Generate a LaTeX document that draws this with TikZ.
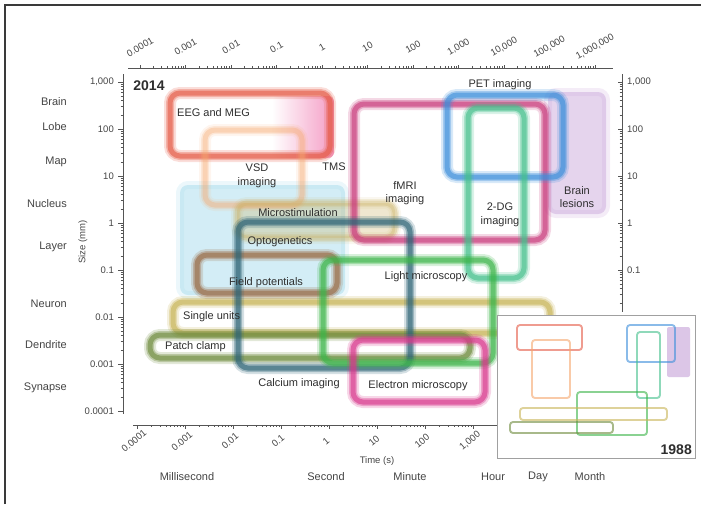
\documentclass[tikz,border=0pt]{standalone}
\usepackage{fontspec}
\setmainfont{Liberation Sans}
\setsansfont{Liberation Sans}
\usetikzlibrary{positioning}
\definecolor{FrameGray}{HTML}{3A3A3A}
\definecolor{AxisGray}{HTML}{555555}
\definecolor{TextDark}{HTML}{2E2E2E}
\definecolor{LabelGray}{HTML}{444444}
\definecolor{InsetGray}{HTML}{A0A0A0}
\definecolor{EEGRed}{HTML}{E55B47}
\definecolor{VSDOrange}{HTML}{F5A86E}
\definecolor{TMSPink}{HTML}{EC5A9E}
\definecolor{OptoCyan}{HTML}{9ED8EA}
\definecolor{StimOlive}{HTML}{C9B062}
\definecolor{CalciumTeal}{HTML}{2F6577}
\definecolor{FieldBrown}{HTML}{9A6B45}
\definecolor{LightGreen}{HTML}{3DB54A}
\definecolor{UnitKhaki}{HTML}{C8B458}
\definecolor{PatchOlive}{HTML}{6E8B3D}
\definecolor{ElectronMagenta}{HTML}{D8388C}
\definecolor{FMRICrimson}{HTML}{C93B7C}
\definecolor{PETBlue}{HTML}{3D8FDB}
\definecolor{DGTeal}{HTML}{45C08C}
\definecolor{LesionPurple}{HTML}{C6A0D8}
\tikzset{
  axisline/.style={draw=AxisGray,line width=0.9pt},
  minortick/.style={draw=AxisGray,line width=0.5pt},
  ticklabel/.style={font=\fontsize{9.5}{11}\selectfont,text=LabelGray,inner sep=1pt},
  scalelabel/.style={font=\fontsize{11}{13}\selectfont,text=LabelGray,inner sep=1pt},
  techlabel/.style={font=\fontsize{11}{13.5}\selectfont,text=TextDark,align=center,inner sep=1pt},
  yearlabel/.style={font=\bfseries\fontsize{14}{16}\selectfont,text=TextDark,inner sep=1pt},
  insetbox/.style={line width=1.9pt,rounded corners=3pt,draw opacity=0.6}
}
% blurred outline of one technique
\newcommand{\techbox}[4][1]{%
  \foreach \w/\o in {12/0.2,8/0.35,5/0.6}{%
    \pgfmathsetmacro\op{\o*#1}%
    \draw[line width=\w pt,draw=#2,draw opacity=\op,rounded corners=10pt] #3 rectangle #4;}}
% soft filled area of one technique
\newcommand{\softfill}[3]{%
  \fill[#1,fill opacity=0.45,rounded corners=8pt] #2 rectangle #3;
  \draw[#1,draw opacity=0.2,line width=8pt,rounded corners=8pt] #2 rectangle #3;}

\begin{document}
\begin{tikzpicture}[x=1pt,y=-1pt]
\useasboundingbox (0,0) rectangle (701,504);
\draw[line width=2pt,draw=FrameGray] (5,504) -- (5,5) -- (701,5);

% axes
\draw[axisline] (123,74) -- (123,414);
\draw[axisline] (622,74) -- (622,312);
\draw[axisline] (128,68) -- (613,68);
\draw[axisline] (133,425) -- (497,425);
\foreach \j in {0,...,7}{
  \draw[axisline] (118,{82+47*\j}) -- (123,{82+47*\j});}
\foreach \j in {0,...,6}{
  \foreach \m in {2,...,9}{
    \draw[minortick] (120.5,{82+47*(\j+1)-47*log10(\m)}) -- ++(2.5,0);}}
\foreach \j in {0,...,4}{
  \draw[axisline] (618,{82+47*\j}) -- (622,{82+47*\j});}
\foreach \j in {0,...,4}{
  \foreach \m in {2,...,9}{
    \draw[minortick] (619.5,{82+47*(\j+1)-47*log10(\m)}) -- ++(2.5,0);}}
\foreach \k in {0,...,10}{
  \draw[axisline] ({140+45.5*\k},68) -- ++(0,-3.5);}
\foreach \k in {0,...,9}{
  \foreach \m in {2,...,9}{
    \draw[minortick] ({140+45.5*\k+45.5*log10(\m)},68) -- ++(0,-2);}}
\foreach \k in {0,...,7}{
  \draw[axisline] ({137+48*\k},425) -- ++(0,3.5);}
\foreach \k in {0,...,6}{
  \foreach \m in {2,...,9}{
    \draw[minortick] ({137+48*\k+48*log10(\m)},425) -- ++(0,2);}}

% tick labels
\foreach \v [count=\j from 0] in {{1,000},100,10,1,0.1,0.01,0.001,0.0001}{
  \node[ticklabel,anchor=east] (left\j) at (115,{82+47*\j}) {\v};}
\foreach \v [count=\j from 0] in {{1,000},100,10,1,0.1}{
  \node[ticklabel,anchor=west] (right\j) at (626,{82+47*\j}) {\v};}
\foreach \v [count=\k from 0] in {0.0001,0.001,0.01,0.1,1,10,100,{1,000},{10,000},{100,000},{1,000,000}}{
  \node[ticklabel,rotate=30] (top\k) at ({140+45.5*\k},47) {\v};}
\foreach \v [count=\k from 0] in {0.0001,0.001,0.01,0.1,1,10,100,{1,000}}{
  \node[ticklabel,rotate=40] (bottom\k) at ({134+48*\k},441) {\v};}

% scale names
\node[scalelabel,anchor=east] (brain) at (68,102) {Brain};
\node[scalelabel,anchor=east] (lobe) at (68,127) {Lobe};
\node[scalelabel,anchor=east] (map) at (68,162) {Map};
\node[scalelabel,anchor=east] (nucleus) at (68,204) {Nucleus};
\node[scalelabel,anchor=east] (layer) at (68,247) {Layer};
\node[scalelabel,anchor=east] (neuron) at (68,304) {Neuron};
\node[scalelabel,anchor=east] (dendrite) at (68,345) {Dendrite};
\node[scalelabel,anchor=east] (synapse) at (68,388) {Synapse};
\node[ticklabel,rotate=90] (sizeaxis) at (83,242) {Size (mm)};
\node[ticklabel] (timeaxis) at (377,461) {Time (s)};
\node[scalelabel] (millisecond) at (187,477) {Millisecond};
\node[scalelabel] (second) at (326,477) {Second};
\node[scalelabel] (minute) at (410,477) {Minute};
\node[scalelabel] (hour) at (493,477) {Hour};
\node[scalelabel] (day) at (538,477) {Day};
\node[scalelabel] (month) at (590,477) {Month};

% filled areas
\softfill{OptoCyan}{(180,185)}{(345,295)}
\softfill{LesionPurple}{(548,92)}{(606,214)}
\fill[StimOlive,fill opacity=0.3,rounded corners=8pt] (237,203) rectangle (395,238);
\shade[left color=white,right color=TMSPink,opacity=0.6,rounded corners=6pt] (272,96) rectangle (334,158);

% 2014 techniques
\techbox{EEGRed}{(170,93)}{(330,156)}
\techbox[0.55]{VSDOrange}{(205,130)}{(302,205)}
\techbox[0.5]{StimOlive}{(237,203)}{(395,238)}
\techbox{FMRICrimson}{(354,104)}{(545,240)}
\techbox{PETBlue}{(447,95)}{(563,177)}
\techbox{DGTeal}{(468,108)}{(524,278)}
\techbox{UnitKhaki}{(173,302)}{(550,333)}
\techbox{PatchOlive}{(150,335)}{(470,358)}
\techbox{FieldBrown}{(197,255)}{(337,293)}
\techbox{CalciumTeal}{(238,222)}{(410,368)}
\techbox{LightGreen}{(323,260)}{(493,363)}
\techbox{ElectronMagenta}{(353,340)}{(485,402)}

% technique names
\node[yearlabel] (year2014) at (149,86) {2014};
\node[techlabel,anchor=west] (eeg) at (176,113) {EEG and MEG};
\node[techlabel] (vsd) at (257,176) {VSD\\imaging};
\node[techlabel] (tms) at (334,167) {TMS};
\node[techlabel] (microstim) at (298,213) {Microstimulation};
\node[techlabel] (opto) at (280,242) {Optogenetics};
\node[techlabel] (field) at (266,283) {Field potentials};
\node[techlabel] (lightmic) at (426,277) {Light microscopy};
\node[techlabel,anchor=west] (units) at (182,317) {Single units};
\node[techlabel,anchor=west] (patch) at (164,347) {Patch clamp};
\node[techlabel] (calcium) at (299,384) {Calcium imaging};
\node[techlabel] (electron) at (418,386) {Electron microscopy};
\node[techlabel] (fmri) at (405,193) {fMRI\\imaging};
\node[techlabel] (pet) at (500,85) {PET imaging};
\node[techlabel] (dg) at (500,215) {2-DG\\imaging};
\node[techlabel] (lesions) at (577,197) {Brain\\lesions};

% 1988 inset
\fill[white] (497,315) rectangle (695,458);
\draw[InsetGray,line width=0.8pt] (497,315) rectangle (695,458);
\fill[LesionPurple,fill opacity=0.6,rounded corners=2pt] (667,327) rectangle (690,377);
\draw[insetbox,draw=EEGRed] (517,325) rectangle (582,350);
\draw[insetbox,draw=VSDOrange] (532,340) rectangle (570,398);
\draw[insetbox,draw=PETBlue] (627,325) rectangle (675,362);
\draw[insetbox,draw=DGTeal] (637,332) rectangle (660,398);
\draw[insetbox,draw=LightGreen] (577,392) rectangle (647,435);
\draw[insetbox,draw=UnitKhaki] (520,408) rectangle (667,420);
\draw[insetbox,draw=PatchOlive] (510,422) rectangle (613,433);
\node[yearlabel,anchor=south east] (year1988) at (693,456) {1988};
\end{tikzpicture}
\end{document}
